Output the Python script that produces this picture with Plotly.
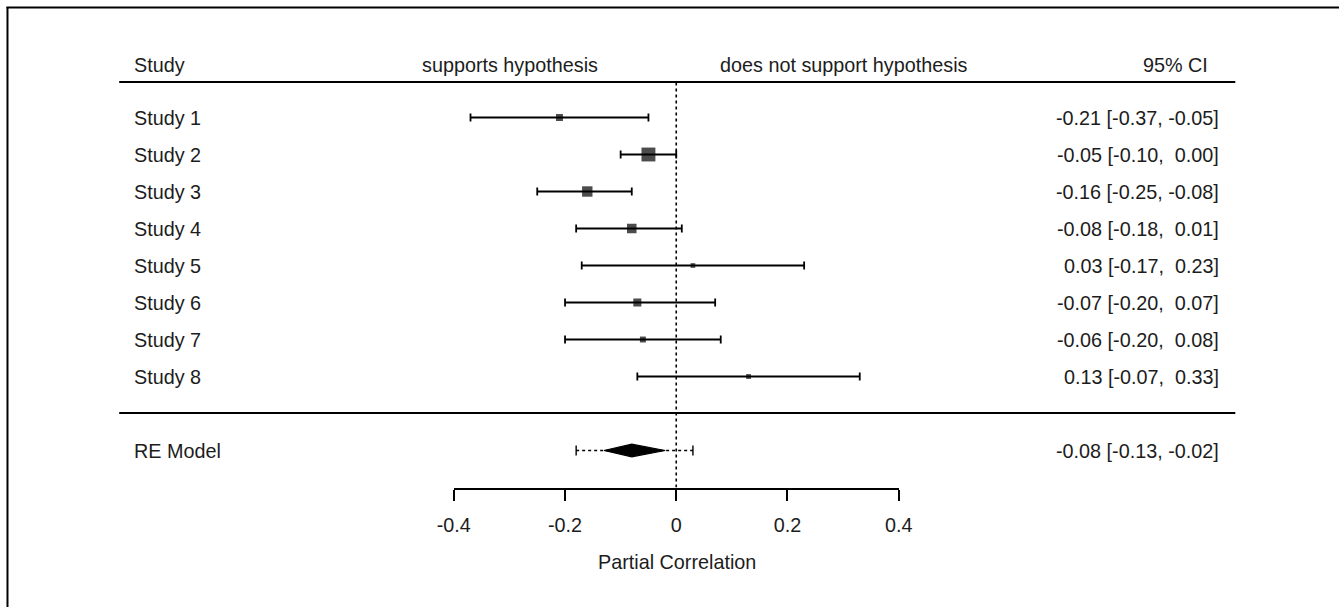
import plotly.graph_objects as go

# ---- data ----
studies = ["Study 1", "Study 2", "Study 3", "Study 4", "Study 5", "Study 6", "Study 7", "Study 8"]
estimates = [-0.21, -0.05, -0.16, -0.08, 0.03, -0.07, -0.06, 0.13]
ci_low = [-0.37, -0.10, -0.25, -0.18, -0.17, -0.20, -0.20, -0.07]
ci_high = [-0.05, 0.00, -0.08, 0.01, 0.23, 0.07, 0.08, 0.33]
weights = [8.3, 33.0, 18.5, 15.5, 3.7, 11.0, 6.0, 4.0]   # % (estimated from square sizes)
ci_text = ["-0.21 [-0.37, -0.05]", "-0.05 [-0.10,  0.00]", "-0.16 [-0.25, -0.08]",
           "-0.08 [-0.18,  0.01]", "0.03 [-0.17,  0.23]", "-0.07 [-0.20,  0.07]",
           "-0.06 [-0.20,  0.08]", "0.13 [-0.07,  0.33]"]

re_label = "RE Model"
re_est = -0.08
re_low = -0.13
re_high = -0.02
re_pi_low = -0.18
re_pi_high = 0.03
re_text = "-0.08 [-0.13, -0.02]"

tick_vals = [-0.4, -0.2, 0, 0.2, 0.4]
tick_text = ["-0.4", "-0.2", "0", "0.2", "0.4"]
x_title = "Partial Correlation"
left_header = "supports hypothesis"
right_header = "does not support hypothesis"
ci_header = "95% CI"
study_header = "Study"

# ---- layout geometry ----
W, H = 1339, 607
FONT = "Liberation Sans, Arial, Helvetica, sans-serif"
TXT = "#1c1c1c"
FS = 19.8

row_px = 37.0
axis_py = 487.5

def px(x):
    # horizontal placement, calibrated against the rendered page
    return ((x - 18.0) / 0.975) / W

def py(y):
    return 1 - y / H

def row_of(page_y):
    return (axis_py - page_y) / row_px

n = len(studies)
rows = [n + 2 - i for i in range(n)]        # Study 1 on top
re_row = 1
header_row = row_of(65)
hline_top = row_of(82)
hline_sep = row_of(413)
y_top = row_of(0)

fig = go.Figure()

sizes = [2.42 * w ** 0.5 for w in weights]

fig.add_trace(go.Scatter(
    x=estimates, y=rows, mode="markers",
    marker=dict(symbol="square", size=sizes, color="black", line=dict(width=0)),
    error_x=dict(type="data", symmetric=False,
                 array=[h - e for h, e in zip(ci_high, estimates)],
                 arrayminus=[e - l for e, l in zip(estimates, ci_low)],
                 color="black", thickness=1.8, width=4),
    showlegend=False, hoverinfo="skip", cliponaxis=False,
))

# prediction interval (dotted)
fig.add_trace(go.Scatter(
    x=[re_pi_low, re_pi_high], y=[re_row, re_row], mode="lines",
    line=dict(color="black", width=1.4, dash="dot"),
    showlegend=False, hoverinfo="skip", cliponaxis=False,
))
fig.add_trace(go.Scatter(
    x=[re_pi_low, re_pi_high], y=[re_row, re_row], mode="markers",
    marker=dict(symbol="line-ns", size=7, line=dict(color="black", width=1.4)),
    showlegend=False, hoverinfo="skip", cliponaxis=False,
))
# summary diamond
dh = 0.17
fig.add_trace(go.Scatter(
    x=[re_low, re_est, re_high, re_est, re_low],
    y=[re_row, re_row + dh, re_row, re_row - dh, re_row],
    mode="lines", fill="toself", fillcolor="black",
    line=dict(color="black", width=1.2),
    showlegend=False, hoverinfo="skip", cliponaxis=False,
))

shapes = []
for yy in (hline_top, hline_sep):
    shapes.append(dict(type="line", xref="paper", yref="y", x0=px(120), x1=px(1234),
                       y0=yy, y1=yy, line=dict(color="black", width=2)))
shapes.append(dict(type="line", xref="x", yref="y", x0=0, x1=0, y0=0, y1=hline_top,
                   line=dict(color="black", width=1.6, dash="dot"), layer="below"))
# outer frame (left and top edges)
shapes.append(dict(type="line", xref="paper", yref="paper", x0=px(8.5), x1=px(8.5),
                   y0=-0.05, y1=py(7), line=dict(color="black", width=2)))
shapes.append(dict(type="line", xref="paper", yref="paper", x0=px(7.5), x1=px(1345),
                   y0=py(7.5), y1=py(7.5), line=dict(color="black", width=2)))

ann = []
def txt(x, y, t, anchor, yref="y"):
    ann.append(dict(x=x, y=y, xref="paper", yref=yref, text=t, showarrow=False,
                    xanchor=anchor, yanchor="middle",
                    font=dict(family=FONT, size=FS, color=TXT)))

txt(px(133), header_row, study_header, "left")
txt(px(510), header_row, left_header, "center")
txt(px(843), header_row, right_header, "center")
txt(px(1209), header_row, ci_header, "right")
for r, s, c in zip(rows, studies, ci_text):
    txt(px(133), r, s, "left")
    txt(px(1220), r, c, "right")
txt(px(133), re_row, re_label, "left")
txt(px(1220), re_row, re_text, "right")
txt(px(677), py(562), x_title, "center", yref="paper")

fig.update_layout(
    width=W, height=H,
    margin=dict(l=0, r=0, t=0, b=0),
    paper_bgcolor="white", plot_bgcolor="white",
    shapes=shapes, annotations=ann,
    xaxis=dict(domain=[px(454), px(898)], range=[-0.4, 0.4],
               tickvals=tick_vals, ticktext=tick_text,
               showline=True, linecolor="black", linewidth=2,
               ticks="outside", ticklen=11, tickwidth=2, tickcolor="black",
               ticklabelstandoff=8,
               showgrid=False, zeroline=False, fixedrange=True,
               tickfont=dict(family=FONT, size=FS, color=TXT)),
    yaxis=dict(domain=[py(axis_py), 1], range=[0, y_top],
               visible=False, showgrid=False, zeroline=False, fixedrange=True),
)

page_css = ("document.documentElement.style.margin='0';"
            "document.documentElement.style.overflow='hidden';"
            "document.body.style.margin='0';"
            "document.body.style.overflow='hidden';")

fig.write_html("out.html", post_script=page_css, config={"displayModeBar": False})
